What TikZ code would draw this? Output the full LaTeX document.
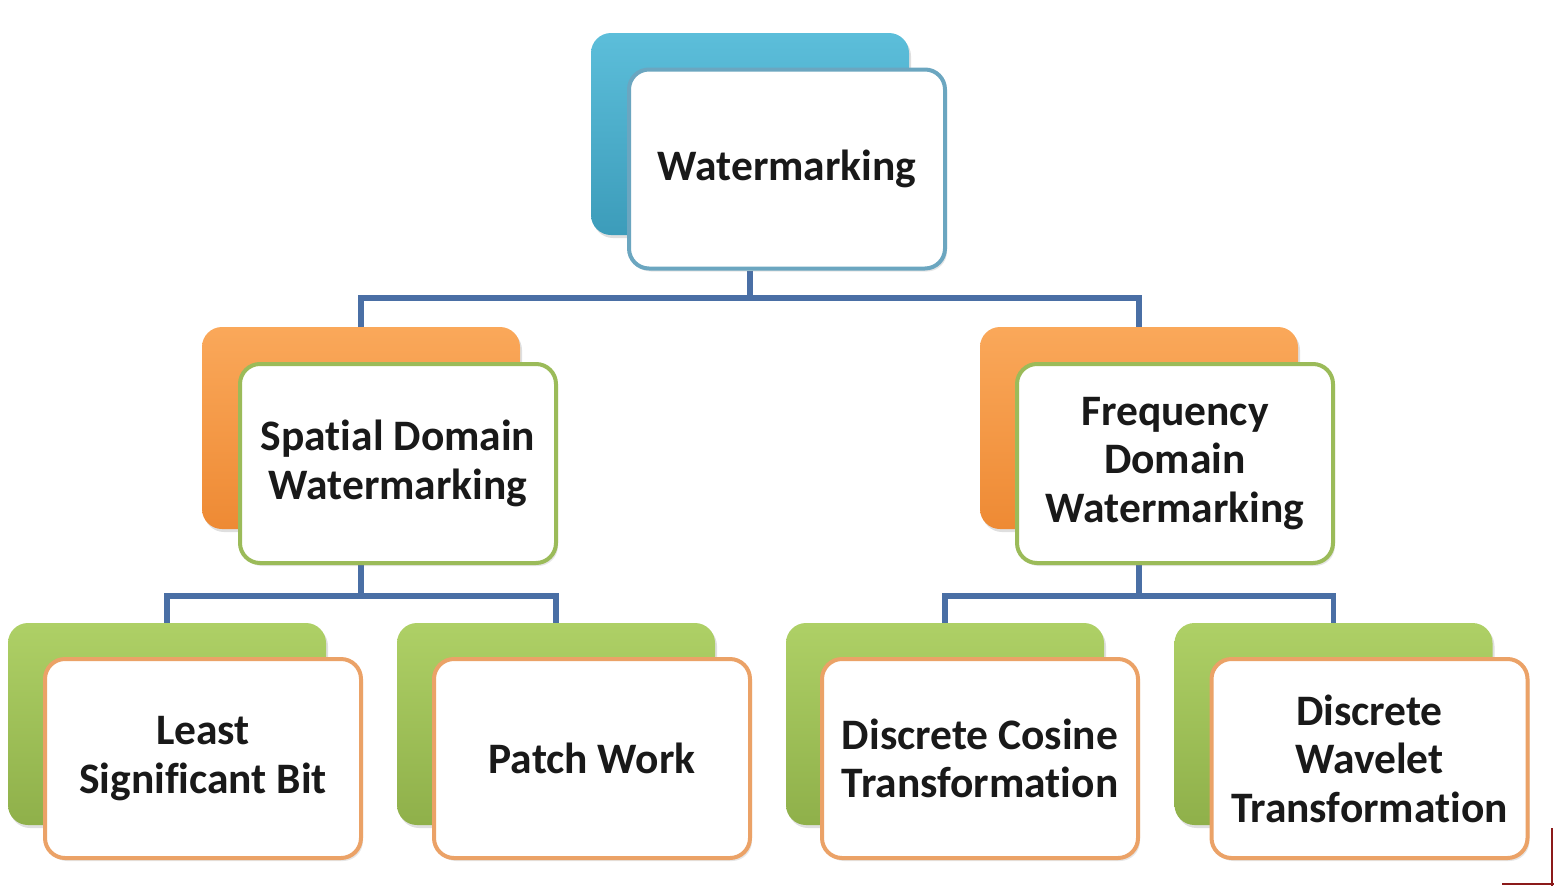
\documentclass[tikz,border=0pt]{standalone}
\usepackage{fontspec}
\setmainfont[Ligatures=NoCommon]{Carlito}
\usetikzlibrary{shadows,backgrounds}
\definecolor{connc}{HTML}{4A6FA5}
\definecolor{blueT}{HTML}{5CBEDA}
\definecolor{blueB}{HTML}{3C9CBA}
\definecolor{blueE}{HTML}{6BA6C0}
\definecolor{orT}{HTML}{FAA85A}
\definecolor{orB}{HTML}{EE8A34}
\definecolor{grT}{HTML}{AED066}
\definecolor{grB}{HTML}{8FB04A}
\definecolor{grE}{HTML}{9BBB59}
\definecolor{orE}{HTML}{EBA267}
\definecolor{artc}{HTML}{8B1A1A}
\begin{document}
\begin{tikzpicture}[x=1pt,y=-1pt,
  back/.style={rectangle, rounded corners=20pt, minimum width=318pt, minimum height=202pt, inner sep=0pt,
    drop shadow={opacity=0.25, shadow xshift=2pt, shadow yshift=-3pt}},
  bblue/.style={back, top color=blueT, bottom color=blueB},
  borange/.style={back, top color=orT, bottom color=orB},
  bgreen/.style={back, top color=grT, bottom color=grB},
  front/.style={rectangle, rounded corners=20pt, minimum width=316pt, minimum height=199pt, fill=white,
    line width=4pt, align=center, inner sep=0pt, text=black!90,
    font=\fontsize{43.5}{48.5}\selectfont\bfseries,
    drop shadow={opacity=0.2, shadow xshift=2pt, shadow yshift=-3pt}},
  fblue/.style={front, draw=blueE},
  fgreen/.style={front, draw=grE},
  forange/.style={front, draw=orE},
  conn/.style={draw=connc, line width=5.5pt}]
\useasboundingbox (0,0) rectangle (1554,886);

% top
\node[bblue] (wb) at (750,134) {};
\node[fblue] (w) at (787,169) {Watermarking};

% level 2
\node[borange] (sdb) at (361,428) {};
\node[fgreen] (sd) at (398,463.5) {Spatial Domain\\Watermarking};
\node[borange] (fdb) at (1139,428) {};
\node[fgreen] (fd) at (1175,463.5) {Frequency\\Domain\\Watermarking};

% level 3
\node[bgreen] (lsbb) at (167,724) {};
\node[forange] (lsb) at (203,758.5) {Least\\Significant Bit};
\node[bgreen] (pwb) at (556,724) {};
\node[forange] (pw) at (592,758.5) {Patch Work};
\node[bgreen] (dctb) at (945,724) {};
\node[forange] (dct) at (980,758.5) {Discrete Cosine\\Transformation};
\node[bgreen] (dwtb) at (1333.5,724) {};
\node[forange] (dwt) at (1369.5,758.5) {Discrete\\Wavelet\\Transformation};

\coordinate (j1) at (750,298);
\coordinate (j2) at (361,596);
\coordinate (j3) at (1139,596);

\begin{scope}[on background layer]
\draw[conn] (wb |- w.south) -- (j1) -| (sdb.north);
\draw[conn] (j1) -| (fdb.north);
\draw[conn] (sdb |- sd.south) -- (j2) -| (lsbb.north);
\draw[conn] (j2) -| (pwb.north);
\draw[conn] (fdb |- fd.south) -- (j3) -| (dctb.north);
\draw[conn] (j3) -| (dwtb.north);
\end{scope}

% corner artifact
\coordinate (a1) at (1552,828);
\coordinate (a2) at (1552,886);
\coordinate (a3) at (1502,884);
\coordinate (a4) at (1554,884);
\draw[artc, line width=2pt] (a1) -- (a2);
\draw[artc, line width=2pt] (a3) -- (a4);
\end{tikzpicture}
\end{document}
